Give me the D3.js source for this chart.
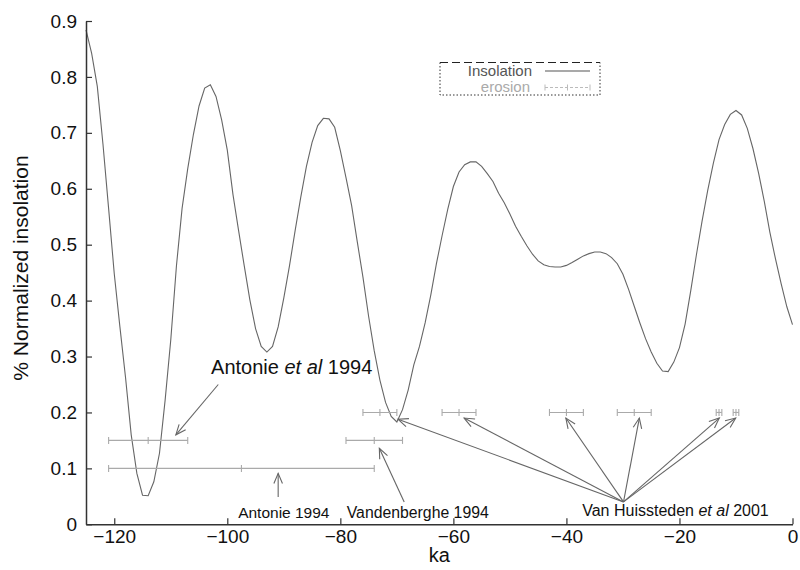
<!DOCTYPE html>
<html><head><meta charset="utf-8">
<script src="https://cdn.jsdelivr.net/npm/d3@7"></script>
<style>body{margin:0;background:#fff}svg{font-family:"Liberation Sans",Arial,Helvetica,sans-serif}</style>
</head><body>
<svg id="c" width="800" height="570"></svg>
<script>
// ---- data ----
const insolation = [
[-125,0.884],[-124,0.842],[-123,0.783],[-122,0.680],[-121,0.565],[-120,0.448],[-119,0.353],[-118,0.262],
[-117,0.160],[-116,0.091],[-115,0.052],[-114,0.051],[-113,0.076],[-112,0.127],[-111,0.222],[-110,0.330],
[-109,0.462],[-108,0.565],[-107,0.636],[-106,0.697],[-105,0.748],[-104,0.780],[-103,0.786],[-102,0.765],
[-101,0.723],[-100,0.669],[-99,0.590],[-98,0.525],[-97,0.462],[-96,0.401],[-95,0.350],[-94,0.318],
[-93,0.308],[-92,0.318],[-91,0.353],[-90,0.405],[-89,0.462],[-88,0.525],[-87,0.585],[-86,0.640],
[-85,0.683],[-84,0.713],[-83,0.726],[-82,0.725],[-81,0.710],[-80,0.668],[-79,0.620],[-78,0.570],
[-77,0.505],[-76,0.442],[-75,0.372],[-74,0.310],[-73,0.258],[-72,0.218],[-71,0.193],[-70,0.183],
[-69,0.205],[-68,0.240],[-67,0.285],[-66,0.318],[-65,0.360],[-64,0.410],[-63,0.466],[-62,0.516],
[-61,0.563],[-60,0.604],[-59,0.630],[-58,0.643],[-57,0.648],[-56,0.648],[-55,0.640],[-54,0.627],
[-53,0.613],[-52,0.592],[-51,0.575],[-50,0.555],[-49,0.533],[-48,0.515],[-47,0.498],[-46,0.483],
[-45,0.471],[-44,0.464],[-43,0.461],[-42,0.460],[-41,0.460],[-40,0.463],[-39,0.468],[-38,0.474],
[-37,0.480],[-36,0.484],[-35,0.487],[-34,0.487],[-33,0.484],[-32,0.477],[-31,0.466],[-30,0.447],
[-29,0.420],[-28,0.390],[-27,0.360],[-26,0.332],[-25,0.308],[-24,0.288],[-23,0.274],[-22,0.273],
[-21,0.290],[-20,0.316],[-19,0.358],[-18,0.418],[-17,0.482],[-16,0.542],[-15,0.597],[-14,0.646],
[-13,0.688],[-12,0.715],[-11,0.733],[-10,0.740],[-9,0.732],[-8,0.708],[-7,0.672],[-6,0.628],
[-5,0.578],[-4,0.522],[-3,0.474],[-2,0.430],[-1,0.389],[0,0.357]
];
// erosion ages: [centre ka, half-width ka, plotted level]
const erosionCentre = [-114, -97.5, -74, -73, -59, -40, -28, -13, -10];
const erosionHalf   = [7, 23.5, 5, 3, 3, 3, 3, 0.5, 0.5];
const erosionLevel  = [0.15, 0.10, 0.15, 0.20, 0.20, 0.20, 0.20, 0.20, 0.20];
const xTicks = [-120, -100, -80, -60, -40, -20, 0];
const yTicks = [0, 0.1, 0.2, 0.3, 0.4, 0.5, 0.6, 0.7, 0.8, 0.9];
// annotation arrows in data units: [fromKa, fromVal, toKa, toVal]
const arrowsAntonieEtAl = [[-101.6, 0.250, -109.1, 0.160]];
const arrowsAntonie = [[-91.0, 0.049, -91.0, 0.091]];
const arrowsVandenberghe = [[-68.7, 0.040, -73.1, 0.136]];
const arrowsHuissteden = [[-29.9,0.040,-69.8,0.188],[-29.9,0.040,-58.1,0.190],[-29.9,0.040,-40.1,0.190],
  [-29.9,0.040,-27.1,0.190],[-29.9,0.040,-12.95,0.190],[-29.9,0.040,-10.05,0.190]];

// ---- chart ----
const svg = d3.select("#c");
const x = d3.scaleLinear().domain([-125, 0]).range([86, 792.5]);
const y = d3.scaleLinear().domain([0, 0.9]).range([524.3, 21]);

// curve
svg.append("path").datum(insolation)
  .attr("fill","none").attr("stroke","#666").attr("stroke-width",1.1)
  .attr("d", d3.line().x(d=>x(d[0])).y(d=>y(d[1])));

// erosion bars
const eg = svg.append("g").attr("stroke","#aaa").attr("stroke-width",1.1);
erosionCentre.forEach((c,i)=>{
  const yy = y(erosionLevel[i]), x0 = x(c-erosionHalf[i]), x1 = x(c+erosionHalf[i]), xm = x(c);
  eg.append("line").attr("x1",x0).attr("x2",x1).attr("y1",yy).attr("y2",yy);
  [x0,xm,x1].forEach(xx=>eg.append("line").attr("x1",xx).attr("x2",xx).attr("y1",yy-3.5).attr("y2",yy+3.5));
});

// axes
const yAxis = d3.axisLeft(y).tickValues(yTicks).tickSizeInner(-6).tickSizeOuter(0).tickPadding(9)
  .tickFormat(d=> d===0 ? "0" : d3.format(".1f")(d));
const xAxis = d3.axisBottom(x).tickValues(xTicks).tickSizeInner(-6).tickSizeOuter(0).tickPadding(5);
const ga = svg.append("g").attr("transform",`translate(${x(-125)},0)`).call(yAxis);
const gb = svg.append("g").attr("transform",`translate(0,${y(0)})`).call(xAxis);
[ga,gb].forEach(g=>{
  g.select(".domain").attr("stroke","#333").attr("stroke-width",1.5);
  g.selectAll(".tick line").attr("stroke","#333").attr("stroke-width",1.2);
  g.selectAll("text").attr("font-size",19).attr("fill","#111").attr("font-family","Liberation Sans, Arial, sans-serif");
});

svg.append("text").attr("transform","translate(28,268) rotate(-90)").attr("text-anchor","middle")
  .attr("font-size",21).attr("fill","#111").text("% Normalized insolation");
svg.append("text").attr("x",(x(-125)+x(0))/2).attr("y",562).attr("text-anchor","middle")
  .attr("font-size",20).attr("fill","#111").text("ka");

// arrows
function arrow(g,a){
  const x0=x(a[0]),y0=y(a[1]),x1=x(a[2]),y1=y(a[3]);
  const ang=Math.atan2(y1-y0,x1-x0), L=11, w=0.4;
  g.append("line").attr("x1",x0).attr("y1",y0).attr("x2",x1).attr("y2",y1);
  g.append("path").attr("fill","none").attr("d",
    `M${x1-L*Math.cos(ang-w)},${y1-L*Math.sin(ang-w)}L${x1},${y1}L${x1-L*Math.cos(ang+w)},${y1-L*Math.sin(ang+w)}`);
}
const ag = svg.append("g").attr("stroke","#666").attr("stroke-width",1.1);
[...arrowsAntonieEtAl, ...arrowsAntonie, ...arrowsVandenberghe, ...arrowsHuissteden].forEach(a=>arrow(ag,a));

// annotation texts
function label(ka,val,size,parts){
  const t = svg.append("text").attr("x",x(ka)).attr("y",y(val)).attr("text-anchor","middle")
    .attr("font-size",size).attr("fill","#111");
  parts.forEach(p=>t.append("tspan").attr("font-style",p[1]?"italic":"normal").text(p[0]));
}
label(-88.6, 0.269, 20, [["Antonie ",0],["et al",1],[" 1994",0]]);
label(-90.0, 0.012, 15.5, [["Antonie 1994",0]]);
label(-66.3, 0.012, 15.8, [["Vandenberghe 1994",0]]);
label(-20.7, 0.014, 16, [["Van Huissteden ",0],["et al",1],[" 2001",0]]);

// legend
const lg = svg.append("g");
lg.append("line").attr("x1",440).attr("x2",600).attr("y1",62.5).attr("y2",62.5).attr("stroke","#222").attr("stroke-dasharray","8,4");
lg.append("path").attr("d","M440,62.5V95H600V62.5").attr("fill","none").attr("stroke","#333").attr("stroke-dasharray","1.5,2");
lg.append("text").attr("x",532).attr("y",76).attr("text-anchor","end").attr("font-size",15).attr("fill","#555").text("Insolation");
lg.append("line").attr("x1",545).attr("x2",590).attr("y1",71).attr("y2",71).attr("stroke","#555").attr("stroke-width",1.1);
lg.append("text").attr("x",530).attr("y",92).attr("text-anchor","end").attr("font-size",15).attr("fill","#aaa").text("erosion");
lg.append("line").attr("x1",545).attr("x2",590).attr("y1",87.5).attr("y2",87.5).attr("stroke","#bbb").attr("stroke-dasharray","3,2");
[545,567.5,590].forEach(xx=>lg.append("line").attr("x1",xx).attr("x2",xx).attr("y1",84.5).attr("y2",90.5).attr("stroke","#bbb"));
</script>
</body></html>
